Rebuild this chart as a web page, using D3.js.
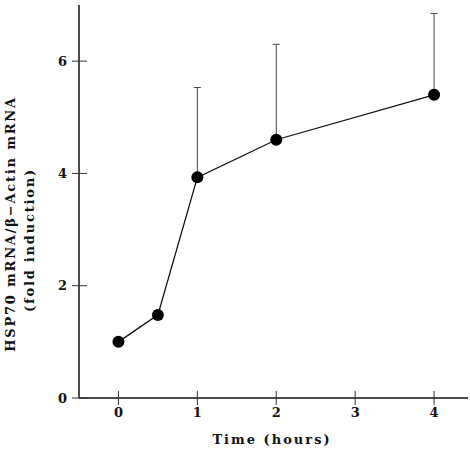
<!DOCTYPE html>
<html><head><meta charset="utf-8">
<script src="https://cdn.jsdelivr.net/npm/d3@7"></script>
<style>
body{margin:0;background:#fff;}
text{font-family:"DejaVu Serif",serif;font-weight:bold;fill:#111;}
</style></head>
<body><svg id="c" width="470" height="452"></svg>
<script>
const times = [0, 0.5, 1, 2, 4];
const foldInduction = [1.0, 1.48, 3.93, 4.6, 5.4];
const errorTop = [null, null, 5.53, 6.3, 6.85];
const xTicks = [0, 1, 2, 3, 4];
const yTicks = [0, 2, 4, 6];
const xLabel = "Time (hours)";
const yLabel1 = "HSP70 mRNA/\u03B2\u2212Actin mRNA";
const yLabel2 = "(fold induction)";

const svg = d3.select("#c");
const x = d3.scaleLinear().domain([-0.5, 4.43]).range([79, 468]);
const y = d3.scaleLinear().domain([0, 7]).range([398, 5]);

// axes lines
svg.append("line").attr("x1", x(-0.5)).attr("x2", x(4.43)).attr("y1", y(0)).attr("y2", y(0))
  .attr("stroke", "#111").attr("stroke-width", 1.5);
svg.append("line").attr("x1", x(-0.5)).attr("x2", x(-0.5)).attr("y1", y(0)).attr("y2", y(7))
  .attr("stroke", "#111").attr("stroke-width", 1.5);

// y ticks
const yt = svg.append("g");
yt.selectAll("line").data(yTicks).join("line")
  .attr("x1", x(-0.5) - 7).attr("x2", x(-0.5) + 8)
  .attr("y1", d => y(d)).attr("y2", d => y(d))
  .attr("stroke", "#333").attr("stroke-width", 1);
yt.selectAll("text").data(yTicks).join("text")
  .attr("x", x(-0.5) - 12).attr("y", d => y(d)).attr("dy", "0.36em")
  .attr("text-anchor", "end").attr("font-size", 13).text(d => d);

// x ticks
const xt = svg.append("g");
xt.selectAll("line").data(xTicks).join("line")
  .attr("x1", d => x(d)).attr("x2", d => x(d))
  .attr("y1", y(0) - 7).attr("y2", y(0) + 7)
  .attr("stroke", "#333").attr("stroke-width", 1);
xt.selectAll("text").data(xTicks).join("text")
  .attr("x", d => x(d)).attr("y", y(0) + 19)
  .attr("text-anchor", "middle").attr("font-size", 13).text(d => d);

// error bars
const pts = times.map((t, i) => ({t, v: foldInduction[i], e: errorTop[i]}));
const eb = svg.append("g");
pts.filter(d => d.e != null).forEach(d => {
  eb.append("line").attr("x1", x(d.t)).attr("x2", x(d.t)).attr("y1", y(d.v)).attr("y2", y(d.e))
    .attr("stroke", "#444").attr("stroke-width", 1);
  eb.append("line").attr("x1", x(d.t) - 3.5).attr("x2", x(d.t) + 3.5).attr("y1", y(d.e)).attr("y2", y(d.e))
    .attr("stroke", "#444").attr("stroke-width", 1);
});

// line
svg.append("path").datum(pts)
  .attr("d", d3.line().x(d => x(d.t)).y(d => y(d.v)))
  .attr("fill", "none").attr("stroke", "#111").attr("stroke-width", 1.3);

// points
svg.append("g").selectAll("circle").data(pts).join("circle")
  .attr("cx", d => x(d.t)).attr("cy", d => y(d.v)).attr("r", 6).attr("fill", "#000");

// axis labels
svg.append("text").attr("x", 272).attr("y", 444).attr("text-anchor", "middle")
  .attr("font-size", 13).attr("letter-spacing", 2).text(xLabel);
svg.append("text").attr("transform", "translate(15,224) rotate(-90)")
  .attr("text-anchor", "middle").attr("font-size", 13).attr("letter-spacing", 1.8).text(yLabel1);
svg.append("text").attr("transform", "translate(34,240) rotate(-90)")
  .attr("text-anchor", "middle").attr("font-size", 13).attr("letter-spacing", 1.8).text(yLabel2);
</script></body></html>
